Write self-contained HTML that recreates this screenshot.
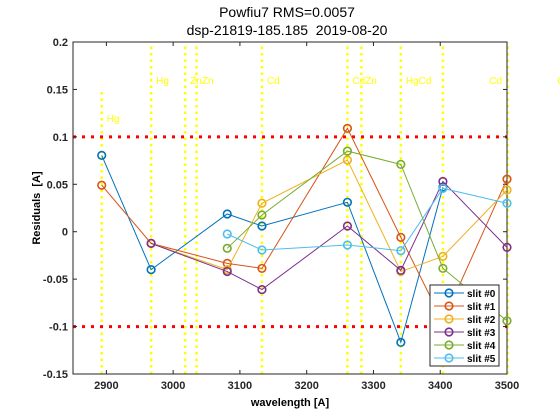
<!DOCTYPE html>
<html><head><meta charset="utf-8"><style>
body{margin:0;background:#fff;}
svg{display:block;font-family:"Liberation Sans",Arial,sans-serif;}
</style></head><body>
<svg id="chart" width="560" height="420" viewBox="0 0 560 420">
<rect width="560" height="420" fill="#fff"/>
<text x="287" y="17" text-anchor="middle" font-size="14">Powfiu7 RMS=0.0057</text>
<text x="287" y="35" text-anchor="middle" font-size="14" xml:space="preserve">dsp-21819-185.185  2019-08-20</text>
<g id="lines"></g>
<g id="axes"></g>
<g id="series"></g>
<g id="legend"></g>
<text x="290" y="406" text-anchor="middle" font-size="11" font-weight="bold">wavelength [A]</text>
<text transform="translate(40,208) rotate(-90)" text-anchor="middle" font-size="11" font-weight="bold" xml:space="preserve">Residuals  [A]</text>
</svg>
<script>
const xTicks=[2900,3000,3100,3200,3300,3400,3500];
const yTicks=[0.2,0.15,0.1,0.05,0,-0.05,-0.1,-0.15];
const yTickLabels=["0.2","0.15","0.1","0.05","0","-0.05","-0.1","-0.15"];
const lampLines=[2893,2967,3018,3035,3133,3261,3282,3341,3404,3501];
const lampLabels=[["Hg",2893,0.12],["Hg",2967,0.16],["ZnZn",3018,0.16],["Cd",3133,0.16],["CdZn",3261,0.16],["HgCd",3341,0.16],["Cd",3466,0.16],["Cd",3568,0.16]];
const seriesNames=["slit #0","slit #1","slit #2","slit #3","slit #4","slit #5"];
const seriesColors=["#0072bd","#d95319","#edb120","#7e2f8e","#77ac30","#4dbeee"];
const slit0X=[2893,2967,3081,3133,3261,3341,3404];
const slit0Y=[0.0805,-0.040,0.0187,0.006,0.031,-0.1166,0.047];
const slit1X=[2893,2967,3081,3133,3261,3341,3404,3500];
const slit1Y=[0.049,-0.0123,-0.0334,-0.0387,0.109,-0.006,-0.095,0.0555];
const slit2X=[2967,3081,3133,3261,3341,3404,3500];
const slit2Y=[-0.0123,-0.040,0.030,0.0756,-0.042,-0.026,0.044];
const slit3X=[2967,3081,3133,3261,3341,3404,3500];
const slit3Y=[-0.0123,-0.042,-0.061,0.006,-0.0407,0.053,-0.0165];
const slit4X=[3081,3133,3261,3341,3404,3500];
const slit4Y=[-0.0175,0.0176,0.085,0.071,-0.0386,-0.094];
const slit5X=[3081,3133,3261,3341,3404,3500];
const slit5Y=[-0.0024,-0.0193,-0.014,-0.020,0.0457,0.030];
const allX=[slit0X,slit1X,slit2X,slit3X,slit4X,slit5X];
const allY=[slit0Y,slit1Y,slit2Y,slit3Y,slit4Y,slit5Y];

const L=73,R=507,T=42,B=374,xmin=2850,xmax=3500,ymin=-0.15,ymax=0.2;
const sx=v=>L+(v-xmin)/(xmax-xmin)*(R-L);
const sy=v=>B-(v-ymin)/(ymax-ymin)*(B-T);
const NS="http://www.w3.org/2000/svg";
function mk(tag,attrs,parent){const e=document.createElementNS(NS,tag);for(const k in attrs)e.setAttribute(k,attrs[k]);parent.appendChild(e);return e;}
const gl=document.getElementById('lines'),ga=document.getElementById('axes'),gs=document.getElementById('series'),gleg=document.getElementById('legend');

lampLines.forEach((w,i)=>{
 const top=i===0?sy(0.15):T;
 const e=mk('line',{x1:sx(w),x2:sx(w),y1:B,y2:top,stroke:'#ffff00','stroke-width':2.5,'stroke-dasharray':'2.5,4'},gl);
 
 
});
lampLabels.forEach(l=>{
 const t=mk('text',{x:sx(l[1])+5,y:sy(l[2])+4,'font-size':10,fill:'#ffff00'},gl);
 t.textContent=l[0];
 
 
});
[0.1,-0.1].forEach(v=>{
 const e=mk('line',{x1:L,x2:R,y1:sy(v),y2:sy(v),stroke:'#ff0000','stroke-width':3,'stroke-dasharray':'3,6'},gl);
 
 
});

const box=mk('rect',{x:L,y:T,width:R-L,height:B-T,fill:'none',stroke:'#262626','stroke-width':1},ga);


xTicks.forEach(v=>{
 mk('line',{x1:sx(v),x2:sx(v),y1:B,y2:B-4,stroke:'#262626'},ga);
 mk('line',{x1:sx(v),x2:sx(v),y1:T,y2:T+4,stroke:'#262626'},ga);
 const t=mk('text',{x:sx(v),y:B+15,'text-anchor':'middle','font-size':11,'font-weight':'bold',fill:'#262626'},ga);
 t.textContent=v;
 
 
});
yTicks.forEach((v,i)=>{
 mk('line',{x1:L,x2:L+4,y1:sy(v),y2:sy(v),stroke:'#262626'},ga);
 mk('line',{x1:R,x2:R-4,y1:sy(v),y2:sy(v),stroke:'#262626'},ga);
 const t=mk('text',{x:L-5,y:sy(v)+4,'text-anchor':'end','font-size':11,'font-weight':'bold',fill:'#262626'},ga);
 t.textContent=yTickLabels[i];
 
 
});

allX.forEach((xs,s)=>{
 const g=mk('g',{},gs);
 
 
 const pts=xs.map((x,i)=>sx(x)+','+sy(allY[s][i])).join(' ');
 mk('polyline',{points:pts,fill:'none',stroke:seriesColors[s],'stroke-width':1},g);
 xs.forEach((x,i)=>{
  const c=mk('circle',{cx:sx(x),cy:sy(allY[s][i]),r:3.8,fill:'none',stroke:seriesColors[s],'stroke-width':1.6},g);
  
  
 });
});

const lb=mk('rect',{x:430,y:285,width:69,height:81,fill:'#fff',stroke:'#262626','stroke-width':1},gleg);


seriesNames.forEach((n,i)=>{
 const y=293+i*13;
 const g=mk('g',{},gleg);
 
 
 mk('line',{x1:434,x2:464,y1:y,y2:y,stroke:seriesColors[i],'stroke-width':1},g);
 mk('circle',{cx:449,cy:y,r:3.8,fill:'none',stroke:seriesColors[i],'stroke-width':1.6},g);
 const t=mk('text',{x:467,y:y+4,'font-size':10,'font-weight':'bold',fill:'#000'},g);
 t.textContent=n;
});
</script>
</body></html>
